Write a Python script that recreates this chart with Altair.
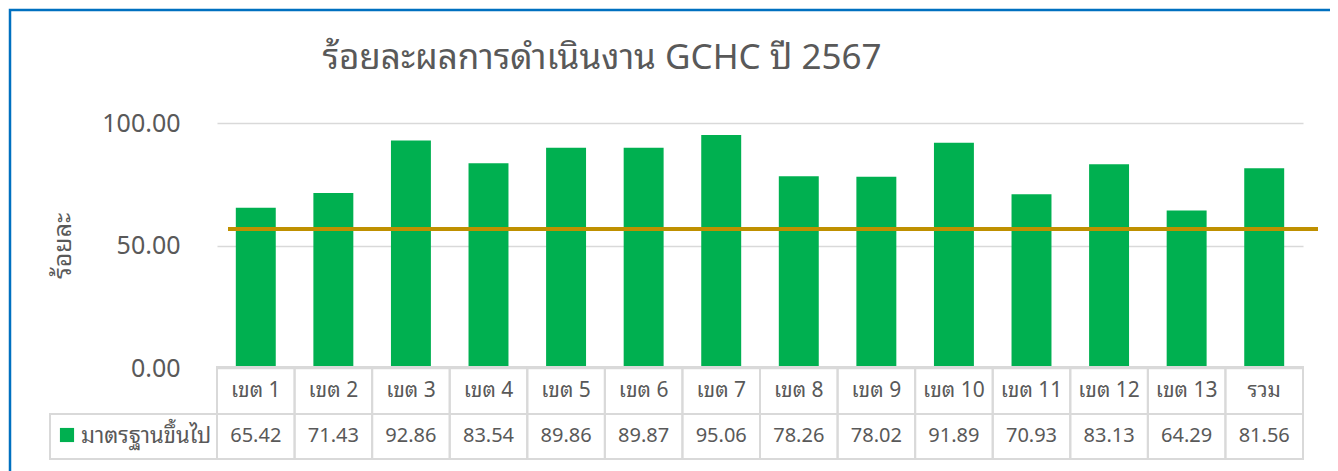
import altair as alt
import pandas as pd

categories = ["เขต 1", "เขต 2", "เขต 3", "เขต 4", "เขต 5", "เขต 6", "เขต 7",
              "เขต 8", "เขต 9", "เขต 10", "เขต 11", "เขต 12", "เขต 13", "รวม"]
values = [65.42, 71.43, 92.86, 83.54, 89.86, 89.87, 95.06,
          78.26, 78.02, 91.89, 70.93, 83.13, 64.29, 81.56]
value_labels = ["65.42", "71.43", "92.86", "83.54", "89.86", "89.87", "95.06",
                "78.26", "78.02", "91.89", "70.93", "83.13", "64.29", "81.56"]
series_name = "มาตรฐานขึ้นไป"
threshold = [56.7]
title_text = "ร้อยละผลการดำเนินงาน GCHC ปี 2567"
y_title = "ร้อยละ"
y_ticks = [0, 50, 100]

FONT = "Noto Sans, Noto Sans Thai Looped, Loma, Garuda, Tahoma, Noto Sans Thai, sans-serif"
GRAY = "#595959"
GREEN = "#00B050"
GRID = "#D9D9D9"

W, H = 1086, 245

df = pd.DataFrame({"cat": categories, "val": values, "lab": value_labels})

xscale = alt.Scale(domain=categories, paddingInner=0, paddingOuter=0)
xenc = alt.X("cat:N", scale=xscale, sort=categories, axis=None)

base = alt.Chart(df)

bars = base.mark_bar(color=GREEN, width=alt.RelativeBandSize(0.515)).encode(
    x=xenc,
    y=alt.Y("val:Q", scale=alt.Scale(domain=[0, 100], nice=False),
            axis=alt.Axis(values=y_ticks, format=".2f", title=y_title,
                          grid=True, gridColor=GRID, gridWidth=1.5,
                          domain=False, ticks=False,
                          labelFont=FONT, labelFontSize=25, labelColor=GRAY,
                          labelPadding=37,
                          titleFont=FONT, titleFontSize=25, titleColor=GRAY,
                          titleFontWeight="normal",
                          titleX=-155, titleY=H / 2, titleAngle=270,
                          titleAlign="center", titleBaseline="middle")),
)

line_df = pd.DataFrame({"t": threshold})
rule = alt.Chart(line_df).mark_rule(color="#BF9000", strokeWidth=4).encode(
    y=alt.Y("t:Q"), x=alt.value(11), x2=alt.value(W + 15)
)

cells = base.mark_rect(fill=None, stroke=GRID, strokeWidth=2).encode(
    x=xenc, y=alt.value(H - 1), y2=alt.value(H + 91)
)

mid_rule = alt.Chart(pd.DataFrame({"a": [0]})).mark_rule(color=GRID, strokeWidth=2).encode(
    x=alt.value(-167), x2=alt.value(W), y=alt.value(H + 46)
)

legend_cell = alt.Chart(pd.DataFrame({"a": [0]})).mark_rect(
    fill=None, stroke=GRID, strokeWidth=2).encode(
    x=alt.value(-167), x2=alt.value(0), y=alt.value(H + 46), y2=alt.value(H + 91)
)

cat_text = base.mark_text(font=FONT, fontSize=21, color=GRAY, baseline="middle").encode(
    x=xenc, y=alt.value(H + 23), text="cat:N"
)
val_text = base.mark_text(font=FONT, fontSize=20, color=GRAY, baseline="middle").encode(
    x=xenc, y=alt.value(H + 68), text="lab:N"
)

leg_df = pd.DataFrame({"name": [series_name]})
leg_sq = alt.Chart(leg_df).mark_square(color=GREEN, size=200, opacity=1).encode(
    x=alt.value(-150), y=alt.value(H + 67)
)
leg_text = alt.Chart(leg_df).mark_text(font=FONT, fontSize=22, color=GRAY,
                                       align="left", baseline="middle").encode(
    x=alt.value(-136), y=alt.value(H + 68), text="name:N"
)

title = alt.Chart(pd.DataFrame({"t": [title_text]})).mark_text(
    font=FONT, fontSize=35, color=GRAY, fontWeight="normal", align="center",
    baseline="middle").encode(x=alt.value(602 - 217), y=alt.value(58 - 123), text="t:N")

border = alt.Chart(pd.DataFrame({"a": [0]})).mark_rect(
    fill=None, stroke="#0070C0", strokeWidth=2.5).encode(
    x=alt.value(-207), x2=alt.value(W + 111), y=alt.value(-113), y2=alt.value(H + 120)
)

chart = alt.layer(
    border, bars, rule, cells, mid_rule, legend_cell, cat_text, val_text,
    leg_sq, leg_text, title
).properties(
    width=W, height=H,
    autosize=alt.AutoSizeParams(type="none"),
    padding={"left": 209, "top": 115, "right": 27, "bottom": 103},
).configure(background="white").configure_view(stroke=None)

chart.save("out.html", embed_options={"renderer": "svg", "actions": False})
